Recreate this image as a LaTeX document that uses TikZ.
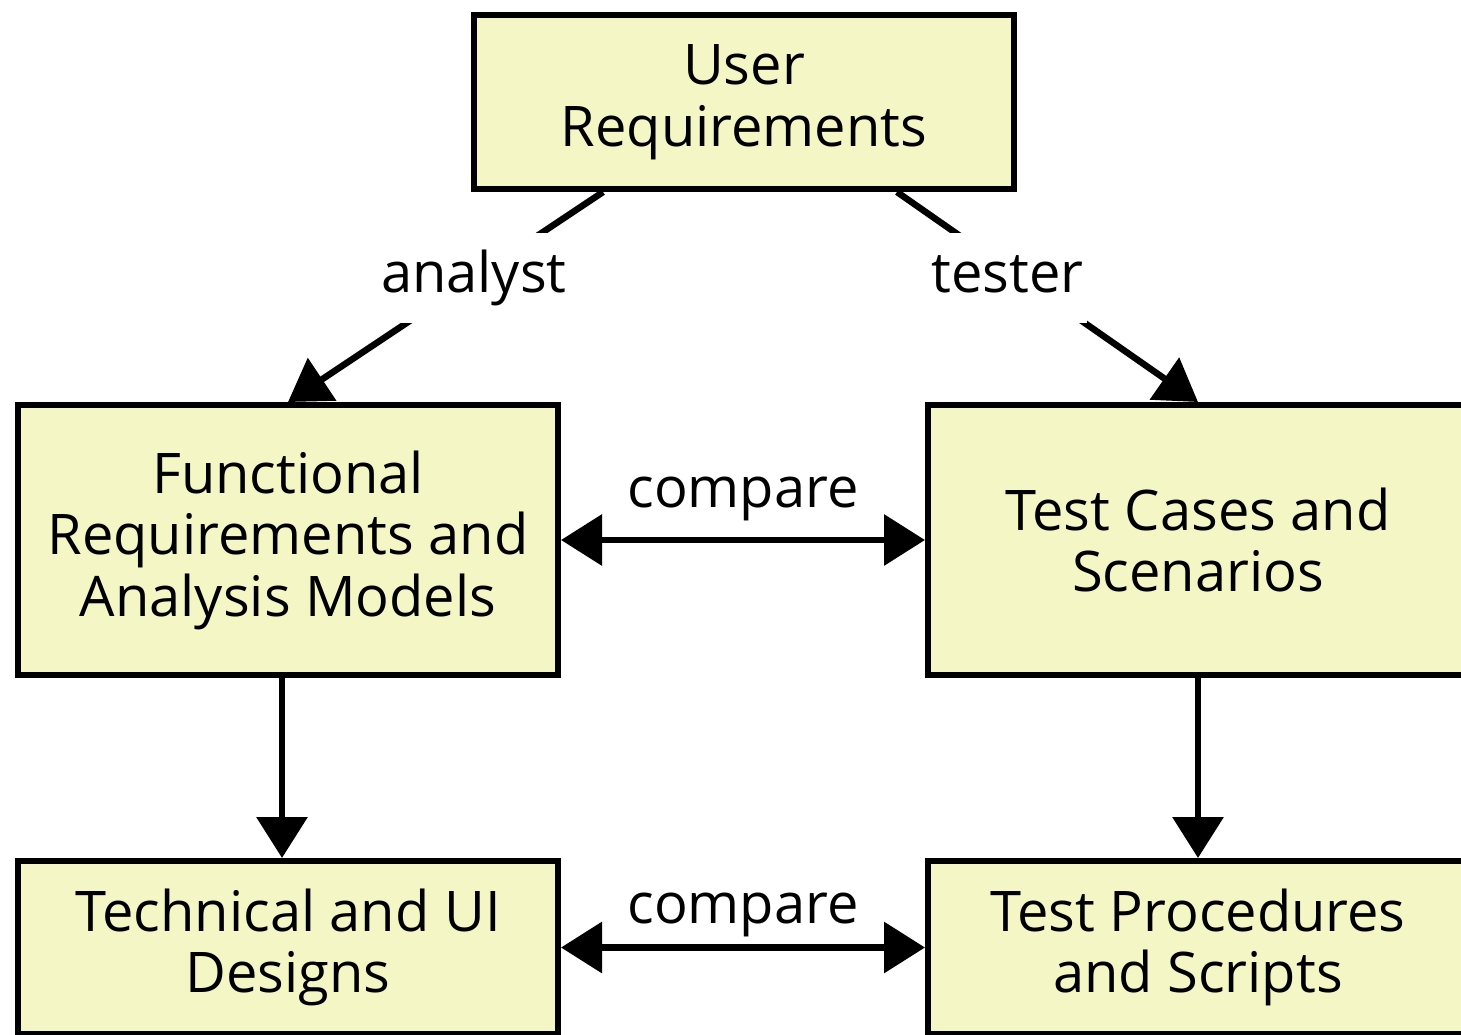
\documentclass[tikz,border=0pt]{standalone}
\usepackage{fontspec}
\setmainfont{Open Sans}
\usetikzlibrary{arrows.meta,calc}
\definecolor{boxfill}{HTML}{F4F6C6}
\begin{document}
\begin{tikzpicture}[x=1pt,y=-1pt,
  txt/.style={font=\fontsize{56}{61.5}\selectfont},
  box/.style={txt,draw=black,line width=6pt,fill=boxfill,inner sep=0pt,align=center,minimum width=540pt},
  tipa/.tip={Triangle[length=41pt,width=50pt]},
  arr/.style={line width=6.5pt,-tipa},
  darr/.style={line width=6.5pt,tipa-tipa},
  lbl/.style={txt,fill=white,inner xsep=4pt,inner ysep=17pt}]
\useasboundingbox (0,0) rectangle (1461,1034);
\node[box,minimum height=174pt] (ur) at (744,102) {User\\Requirements};
\node[box,minimum height=270pt] (fr) at (288,540) {Functional\\Requirements and\\Analysis Models};
\node[box,minimum height=270pt] (tc) at (1198,540) {Test Cases and\\Scenarios};
\node[box,minimum height=173pt] (td) at (288,947.5) {Technical and UI\\Designs};
\node[box,minimum height=173pt] (tp) at (1198,947.5) {Test Procedures\\and Scripts};
\coordinate (ua) at ($(ur.south)+(-141,0)$);
\coordinate (ut) at ($(ur.south)+(153,0)$);
\draw[arr] (ua) -- (fr.north) node[lbl,pos=0.41] (la) {analyst\vphantom{ly}};
\draw[arr] (ut) -- (tc.north) node[lbl,pos=0.41,xshift=-13pt] (lt) {tester\vphantom{ly}};
\draw[darr] (fr.east) -- (tc.west) node[txt,midway,yshift=41.5pt] (c1) {compare};
\draw[darr] (td.east) -- (tp.west) node[txt,midway,yshift=32.5pt] (c2) {compare};
\draw[arr] ($(fr.south)+(-6,0)$) -- ($(td.north)+(-6,0)$);
\draw[arr] (tc.south) -- (tp.north);
\end{tikzpicture}
\end{document}
